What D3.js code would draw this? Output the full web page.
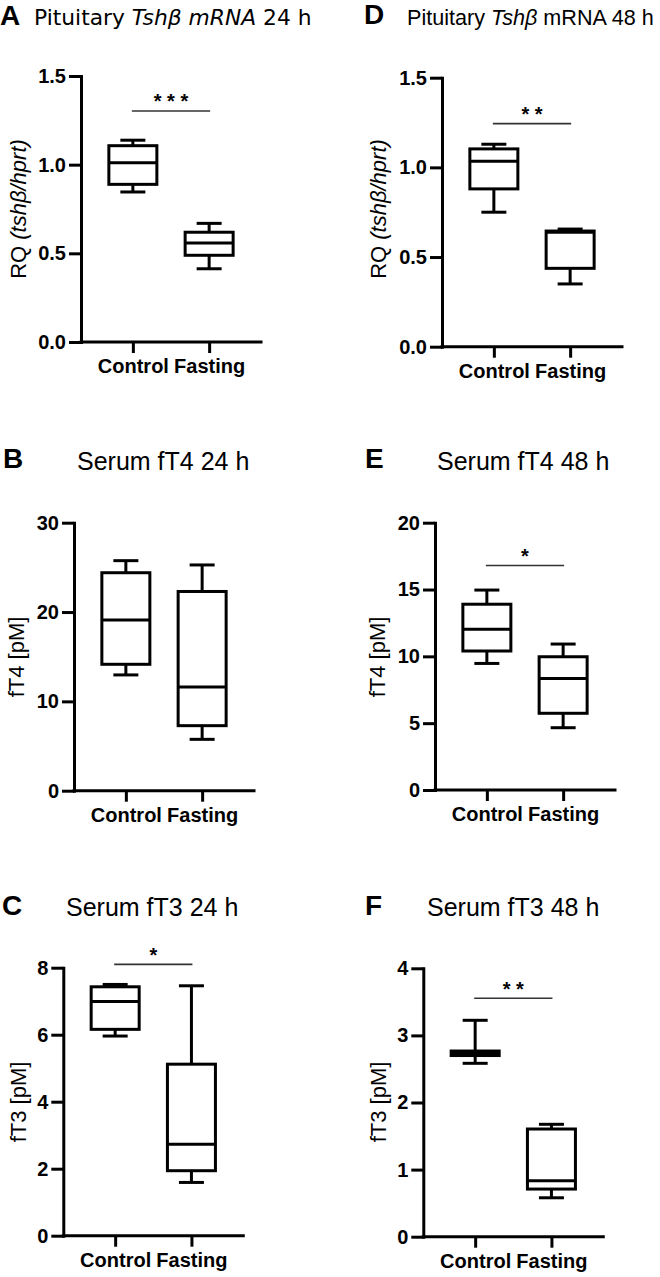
<!DOCTYPE html>
<html>
<head>
<meta charset="utf-8">
<script src="https://cdn.jsdelivr.net/npm/d3@7"></script>
<style>
  html, body { margin: 0; padding: 0; background: #fff; }
  svg { display: block; }
</style>
</head>
<body>
<svg id="chart" width="660" height="1277"></svg>
<script>
// ---------------- DATA ----------------
const categories = ["Control", "Fasting"];
// box stats: [whisker low, Q1, median, Q3, whisker high]
const A_control = [0.846, 0.889, 1.011, 1.107, 1.138];
const A_fasting = [0.413, 0.489, 0.558, 0.619, 0.669];
const D_control = [0.750, 0.880, 1.034, 1.103, 1.129];
const D_fasting = [0.350, 0.437, 0.638, 0.645, 0.656];
const B_control = [12.96, 14.15, 19.1, 24.4, 25.75];
const B_fasting = [5.75, 7.28, 11.6, 22.3, 25.27];
const E_control = [9.47, 10.4, 12.02, 13.9, 14.96];
const E_fasting = [4.66, 5.74, 8.35, 9.97, 10.92];
const C_control = [5.96, 6.16, 6.99, 7.43, 7.50];
const C_fasting = [1.59, 1.94, 2.73, 5.12, 7.46];
const F_control = [2.584, 2.70, 2.733, 2.767, 3.225];
const F_fasting = [0.58, 0.71, 0.835, 1.605, 1.675];

const A_ticks = [0, 0.5, 1.0, 1.5];
const D_ticks = [0, 0.5, 1.0, 1.5];
const B_ticks = [0, 10, 20, 30];
const E_ticks = [0, 5, 10, 15, 20];
const C_ticks = [0, 2, 4, 6, 8];
const F_ticks = [0, 1, 2, 3, 4];

// significance: [label, height in data units]
const A_sig = ["* * *", 1.303];
const D_sig = ["* *", 1.244];
const B_sig = null;
const E_sig = ["*", 16.8];
const C_sig = ["*", 8.1];
const F_sig = ["* *", 3.553];

// titles: [text, italic]
const A_title = [["Pituitary ", false], ["Tshβ mRNA", true], [" 24 h", false]];
const D_title = [["Pituitary ", false], ["Tshβ", true], [" mRNA 48 h", false]];
const B_title = [["Serum fT4 24 h", false]];
const E_title = [["Serum fT4 48 h", false]];
const C_title = [["Serum fT3 24 h", false]];
const F_title = [["Serum fT3 48 h", false]];

const RQ_label = [["RQ ", false], ["(tshβ/hprt)", true]];
const fT4_label = [["fT4 [pM]", false]];
const fT3_label = [["fT3 [pM]", false]];

// ---------------- LAYOUT ----------------
const panels = [
  { letter: "A", ctrl: A_control, fast: A_fasting, ticks: A_ticks, max: 1.5, fmt: ".1f", sig: A_sig, title: A_title, ylab: RQ_label,
    axisX: 81, y0: 342, yTop: 76, letterPos: [0, 25], titlePos: [34, 25], titleFont: "'DejaVu Sans', Verdana, sans-serif", titleSize: 21.8, ylabPos: [18, 209] },
  { letter: "D", ctrl: D_control, fast: D_fasting, ticks: D_ticks, max: 1.5, fmt: ".1f", sig: D_sig, title: D_title, ylab: RQ_label,
    axisX: 442, y0: 346.7, yTop: 77.7, letterPos: [364, 24], titlePos: [407, 25], titleFont: "'Liberation Sans', Arial, sans-serif", titleSize: 21.6, ylabPos: [378, 209] },
  { letter: "B", ctrl: B_control, fast: B_fasting, ticks: B_ticks, max: 30, fmt: "d", sig: B_sig, title: B_title, ylab: fT4_label,
    axisX: 74, y0: 790.7, yTop: 522.7, letterPos: [3, 468], titlePos: [77, 470], titleFont: "'Liberation Sans', Arial, sans-serif", titleSize: 25, ylabPos: [16, 657] },
  { letter: "E", ctrl: E_control, fast: E_fasting, ticks: E_ticks, max: 20, fmt: "d", sig: E_sig, title: E_title, ylab: fT4_label,
    axisX: 435, y0: 790, yTop: 522.7, letterPos: [365, 468], titlePos: [437, 470], titleFont: "'Liberation Sans', Arial, sans-serif", titleSize: 25, ylabPos: [377, 657] },
  { letter: "C", ctrl: C_control, fast: C_fasting, ticks: C_ticks, max: 8, fmt: "d", sig: C_sig, title: C_title, ylab: fT3_label,
    axisX: 63.3, y0: 1235.7, yTop: 967.7, letterPos: [2, 915], titlePos: [66, 916], titleFont: "'Liberation Sans', Arial, sans-serif", titleSize: 25, ylabPos: [18.5, 1102] },
  { letter: "F", ctrl: F_control, fast: F_fasting, ticks: F_ticks, max: 4, fmt: "d", sig: F_sig, title: F_title, ylab: fT3_label,
    axisX: 423.3, y0: 1236.7, yTop: 968.3, letterPos: [365, 915], titlePos: [427, 916], titleFont: "'Liberation Sans', Arial, sans-serif", titleSize: 25, ylabPos: [378.5, 1102] }
];

const FONT = "'Liberation Sans', Arial, Helvetica, sans-serif";
const plotW = 180;
const boxW = 48;
const capW = 25;
const SW = 3;

const svg = d3.select("#chart");

function addParts(textSel, parts) {
  parts.forEach(([t, it]) => {
    textSel.append("tspan").attr("font-style", it ? "italic" : "normal").text(t);
  });
}

panels.forEach(p => {
  const g = svg.append("g");
  const y = d3.scaleLinear().domain([0, p.max]).range([p.y0, p.yTop]);
  const x = d3.scalePoint().domain(categories).range([p.axisX, p.axisX + plotW]).padding(0.68);

  // panel letter
  g.append("text").attr("x", p.letterPos[0]).attr("y", p.letterPos[1])
    .attr("font-family", FONT).attr("font-weight", "bold").attr("font-size", 28)
    .attr("fill", "#000").text(p.letter);

  // title
  const tt = g.append("text").attr("x", p.titlePos[0]).attr("y", p.titlePos[1])
    .attr("font-family", p.titleFont).attr("font-size", p.titleSize).attr("fill", "#000");
  addParts(tt, p.title);

  // y axis
  const yAxis = d3.axisLeft(y).tickValues(p.ticks).tickFormat(d3.format(p.fmt))
    .tickSize(12).tickSizeOuter(0).tickPadding(3);
  const ya = g.append("g").attr("transform", `translate(${p.axisX},0)`).call(yAxis);
  ya.select(".domain").attr("stroke", "#000").attr("stroke-width", SW).attr("stroke-linecap", "square");
  ya.selectAll(".tick line").attr("stroke", "#000").attr("stroke-width", SW);
  ya.selectAll(".tick text").attr("font-family", FONT).attr("font-weight", "bold")
    .attr("font-size", 20).attr("fill", "#000");

  // x axis
  const xAxis = d3.axisBottom(x).tickSize(11).tickSizeOuter(0).tickPadding(6);
  const xa = g.append("g").attr("transform", `translate(0,${p.y0})`).call(xAxis);
  xa.select(".domain").attr("stroke", "#000").attr("stroke-width", SW).attr("stroke-linecap", "square")
    .attr("d", `M${p.axisX},0H${p.axisX + plotW}`);
  xa.selectAll(".tick line").attr("stroke", "#000").attr("stroke-width", SW);
  xa.selectAll(".tick text").attr("font-family", FONT).attr("font-weight", "bold")
    .attr("font-size", 20).attr("fill", "#000");

  // y label
  const yl = g.append("text")
    .attr("transform", `translate(${p.ylabPos[0]},${p.ylabPos[1]}) rotate(-90)`)
    .attr("text-anchor", "middle").attr("dy", "0.36em")
    .attr("font-family", FONT).attr("font-size", 22).attr("fill", "#000");
  addParts(yl, p.ylab);

  // boxes
  const groups = [[categories[0], p.ctrl], [categories[1], p.fast]];
  groups.forEach(([cat, s]) => {
    const cx = x(cat);
    const bg = g.append("g").attr("stroke", "#000").attr("stroke-width", SW).attr("fill", "none");
    bg.append("line").attr("x1", cx).attr("x2", cx).attr("y1", y(s[0])).attr("y2", y(s[1]));
    bg.append("line").attr("x1", cx).attr("x2", cx).attr("y1", y(s[3])).attr("y2", y(s[4]));
    bg.append("line").attr("x1", cx - capW / 2).attr("x2", cx + capW / 2).attr("y1", y(s[0])).attr("y2", y(s[0]));
    bg.append("line").attr("x1", cx - capW / 2).attr("x2", cx + capW / 2).attr("y1", y(s[4])).attr("y2", y(s[4]));
    bg.append("rect").attr("x", cx - boxW / 2).attr("y", y(s[3]))
      .attr("width", boxW).attr("height", y(s[1]) - y(s[3])).attr("fill", "#fff");
    bg.append("line").attr("x1", cx - boxW / 2).attr("x2", cx + boxW / 2).attr("y1", y(s[2])).attr("y2", y(s[2]));
  });

  // significance
  if (p.sig) {
    const ly = y(p.sig[1]);
    const x1 = x(categories[0]) - 1, x2 = x(categories[1]) + 1;
    g.append("line").attr("x1", x1).attr("x2", x2).attr("y1", ly).attr("y2", ly)
      .attr("stroke", "#333").attr("stroke-width", 1.6);
    g.append("text").attr("x", (x1 + x2) / 2).attr("y", ly - 2.5)
      .attr("text-anchor", "middle").attr("font-family", FONT).attr("font-weight", "bold")
      .attr("font-size", 20).attr("fill", "#000").text(p.sig[0]);
  }
});
</script>
</body>
</html>
